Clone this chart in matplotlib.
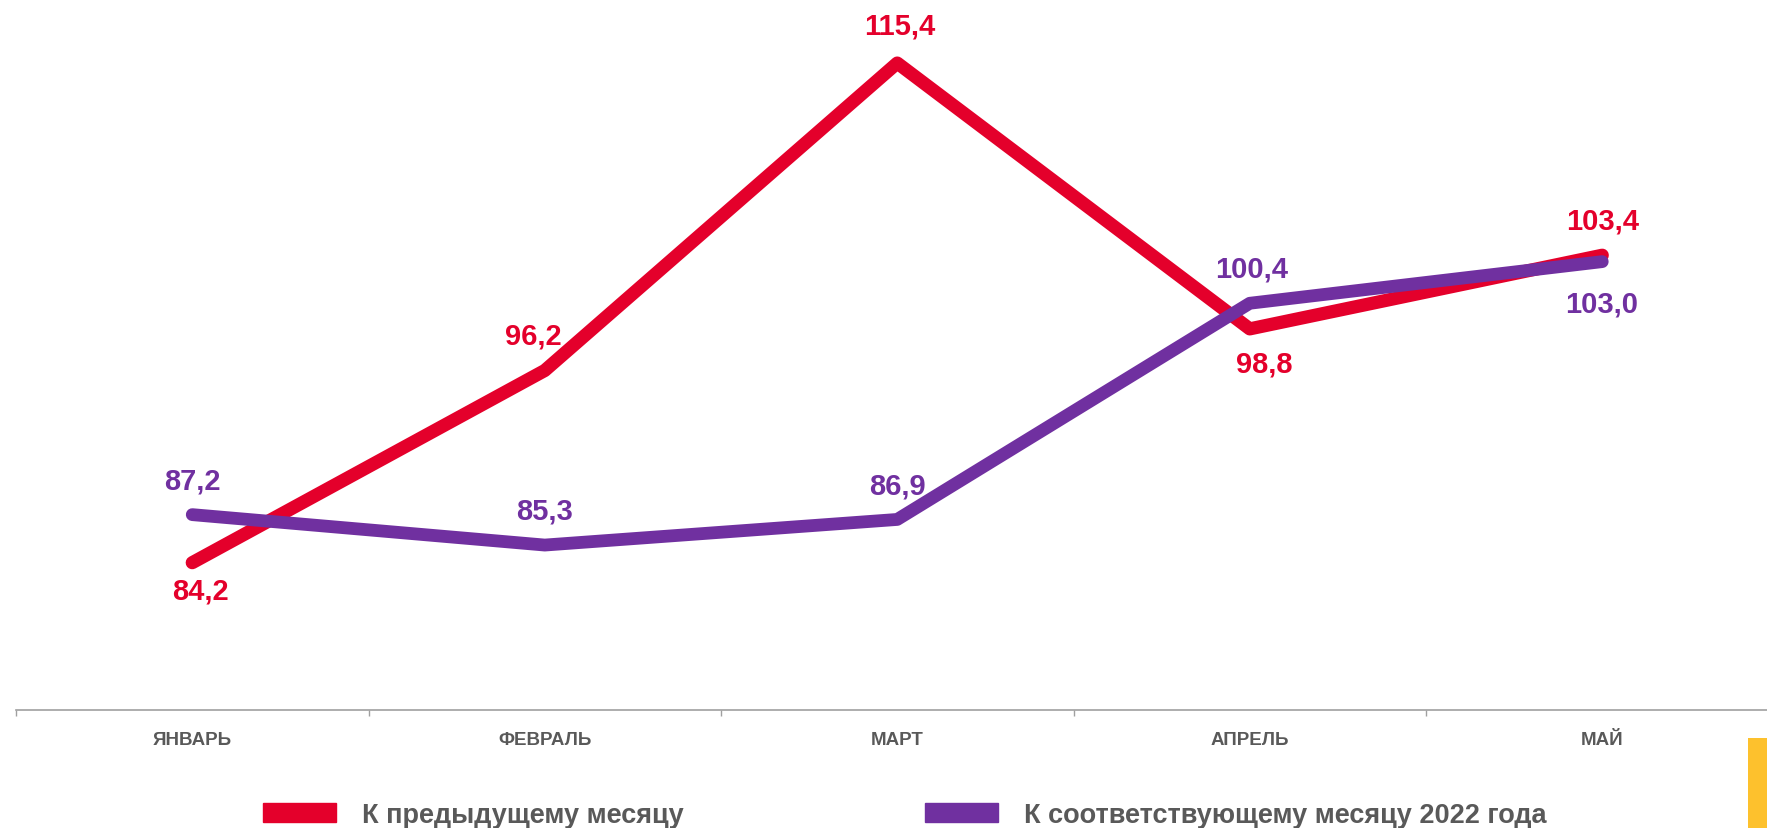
import matplotlib.pyplot as plt
from matplotlib.patches import Patch, Rectangle

months = ["ЯНВАРЬ", "ФЕВРАЛЬ", "МАРТ", "АПРЕЛЬ", "МАЙ"]
prev_month = [84.2, 96.2, 115.4, 98.8, 103.4]
same_month_2022 = [87.2, 85.3, 86.9, 100.4, 103.0]
legend_labels = ["К предыдущему месяцу", "К соответствующему месяцу 2022 года"]

red = "#E4002B"
purple = "#7030A0"
gray = "#595959"

plt.rcParams["font.family"] = ["Liberation Sans", "DejaVu Sans"]

fig = plt.figure(figsize=(17.67, 8.29), dpi=100)
ax = fig.add_axes([16 / 1767, 118 / 829, 1762.5 / 1767, 711 / 829])

x = list(range(len(months)))
ax.plot(x, prev_month, color=red, lw=9.5, solid_capstyle="round", solid_joinstyle="round", zorder=2)
ax.plot(x, same_month_2022, color=purple, lw=9.2, solid_capstyle="round", solid_joinstyle="round", zorder=3)

# смещения подписей в пикселях
red_off = [(8, -28), (-11, 35), (2, 38), (14, -35), (0, 35)]
purple_off = [(0, 34), (0, 35), (0, 34), (2, 35), (-1, -42)]
for i in x:
    ax.annotate(f"{prev_month[i]:.1f}".replace(".", ","), (i, prev_month[i]),
                xytext=red_off[i], textcoords="offset pixels", ha="center", va="center",
                color=red, fontsize=21, fontweight="bold")
    ax.annotate(f"{same_month_2022[i]:.1f}".replace(".", ","), (i, same_month_2022[i]),
                xytext=purple_off[i], textcoords="offset pixels", ha="center", va="center",
                color=purple, fontsize=21, fontweight="bold")

ax.set_xlim(-0.5, 4.5)
ax.set_ylim(75, 119.4)
for s in ["top", "left", "right"]:
    ax.spines[s].set_visible(False)
ax.spines["bottom"].set_color("#A0A0A0")
ax.spines["bottom"].set_linewidth(1.2)
ax.set_yticks([])
ax.set_xticks(x)
ax.set_xticklabels(months, fontsize=13.5, fontweight="bold", color=gray)
ax.tick_params(axis="x", which="major", length=0, pad=15)
ax.set_xticks([i - 0.5 for i in range(len(months) + 1)], minor=True)
ax.tick_params(axis="x", which="minor", length=4, color="#A0A0A0", width=1)

handles = [Patch(color=red), Patch(color=purple)]
fig.legend(handles, legend_labels, loc="center", bbox_to_anchor=(0.512, 1 - 816 / 829),
           ncol=2, frameon=False, prop={"size": 19.5, "weight": "bold"},
           labelcolor=gray, handlelength=2.7, handleheight=0.7,
           handletextpad=0.95, columnspacing=8.9)

fig.add_artist(Rectangle((1748 / 1767, 0), 19 / 1767, 90 / 829,
                         transform=fig.transFigure, color="#FDC12D", lw=0))

fig.savefig("out.png", dpi=100)
